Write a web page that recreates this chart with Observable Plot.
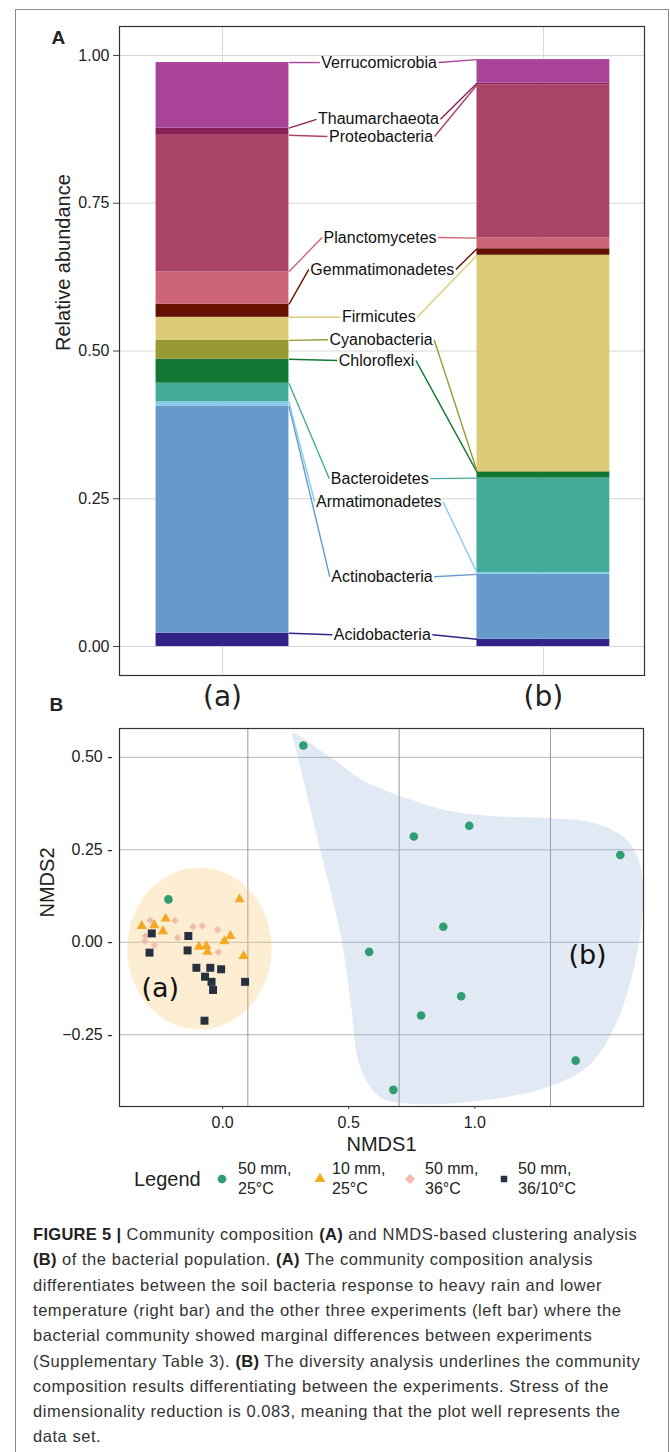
<!DOCTYPE html>
<html><head><meta charset="utf-8">
<script src="https://cdn.jsdelivr.net/npm/d3@7"></script>
<script src="https://cdn.jsdelivr.net/npm/@observablehq/plot@0.6"></script>
<style>
body{margin:0;background:#fff;}
#fig{position:relative;width:670px;height:1452px;overflow:hidden;font-family:"Liberation Sans",Arial,sans-serif;color:#222;}
#border{position:absolute;left:15px;top:9px;width:654px;height:1500px;border:1.5px solid #8a8a8a;box-sizing:border-box;}
.abs{position:absolute;}
.capline{position:absolute;left:33px;font-size:16.5px;letter-spacing:0.55px;line-height:20px;color:#333;white-space:nowrap;}
.capline b{color:#222;letter-spacing:0.3px;}
</style></head><body><div id="fig"><div id="border"></div></div>
<script>
// ---------- Panel A data ----------
const categoriesA = ["(a)", "(b)"];
const phyla = ["Acidobacteria","Actinobacteria","Armatimonadetes","Bacteroidetes","Chloroflexi","Cyanobacteria","Firmicutes","Gemmatimonadetes","Planctomycetes","Proteobacteria","Thaumarchaeota","Verrucomicrobia"];
const valuesA = [0.0225, 0.3845, 0.007, 0.0315, 0.0405, 0.032, 0.039, 0.022, 0.055, 0.231, 0.012, 0.111];
const valuesB = [0.0124, 0.1096, 0.003, 0.160, 0.010, 0.002, 0.365, 0.011, 0.018, 0.259, 0.003, 0.040];
const phylumColors = ["#332288","#6699CC","#88CCEE","#44AA99","#117733","#999933","#DDCC77","#661100","#CC6677","#AA4466","#882255","#AA4499"];
const labelY = [0.020, 0.118, 0.245, 0.284, 0.484, 0.519, 0.557, 0.638, 0.692, 0.863, 0.892, 0.988];
const labelX = [1.498, 1.497, 1.487, 1.490, 1.480, 1.494, 1.487, 1.498, 1.491, 1.494, 1.486, 1.488];
const yTicksA = [0, 0.25, 0.5, 0.75, 1];

// ---------- Panel B data ----------
const groups = ["50 mm, 25°C", "10 mm, 25°C", "50 mm, 36°C", "50 mm, 36/10°C"];
const groupColors = ["#2E9E72", "#F7A823", "#F2BCAD", "#27303F"];
const g1x = [0.320, 0.758, 0.978, 1.577, 0.875, 0.581, 0.946, 0.787, 1.400, 0.677, -0.215];
const g1y = [0.532, 0.286, 0.315, 0.236, 0.042, -0.026, -0.146, -0.198, -0.320, -0.399, 0.116];
const g2x = [0.067, -0.321, -0.271, -0.226, -0.237, -0.094, -0.065, -0.060, 0.007, 0.031, 0.083];
const g2y = [0.116, 0.044, 0.046, 0.064, 0.030, -0.012, -0.010, -0.026, 0.003, 0.017, -0.037];
const g3x = [-0.287, -0.189, -0.306, -0.308, -0.271, -0.179, -0.117, -0.081, -0.020, -0.017];
const g3y = [0.059, 0.059, 0.017, 0.003, -0.008, 0.012, 0.042, 0.044, 0.034, -0.026];
const g4x = [-0.281, -0.290, -0.136, -0.139, -0.104, -0.049, -0.006, -0.070, -0.044, -0.038, 0.089, -0.072];
const g4y = [0.024, -0.028, 0.017, -0.022, -0.069, -0.069, -0.073, -0.093, -0.107, -0.129, -0.107, -0.212];
const hullX = [0.275, 0.427, 0.560, 0.758, 0.890, 1.089, 1.287, 1.486, 1.605, 1.658, 1.664, 1.631, 1.565, 1.459, 1.287, 1.023, 0.758, 0.626, 0.546, 0.507, 0.467, 0.388, 0.308, 0.282];
const hullY = [0.566, 0.500, 0.437, 0.383, 0.356, 0.340, 0.336, 0.320, 0.275, 0.203, 0.068, -0.068, -0.212, -0.329, -0.392, -0.428, -0.437, -0.419, -0.338, -0.158, 0.023, 0.248, 0.473, 0.545];
const ellipseA = {cx: -0.092, cy: -0.017, rx: 0.286, ry: 0.219};
const clusterLabels = ["(a)", "(b)"];
const clusterLabelX = [-0.247, 1.447];
const clusterLabelY = [-0.125, -0.036];
const yTicksB = [-0.25, 0, 0.25, 0.5];
const xTicksB = [0, 0.5, 1];
const gridXB = [0.1, 0.7, 1.3];

// ---------- Caption ----------
const captionLines = [
  "<b>FIGURE 5 |</b> Community composition <b>(A)</b> and NMDS-based clustering analysis",
  "<b>(B)</b> of the bacterial population. <b>(A)</b> The community composition analysis",
  "differentiates between the soil bacteria response to heavy rain and lower",
  "temperature (right bar) and the other three experiments (left bar) where the",
  "bacterial community showed marginal differences between experiments",
  "(Supplementary Table 3). <b>(B)</b> The diversity analysis underlines the community",
  "composition results differentiating between the experiments. Stress of the",
  "dimensionality reduction is 0.083, meaning that the plot well represents the",
  "data set."
];

const fig = document.getElementById("fig");
const FONT = "'Liberation Sans', Arial, sans-serif";

// ---------- Panel A ----------
const barHalf = 0.207;
const xDomainA = [0.679, 2.315];
const rows = [];
const tops = [[], []];
[valuesA, valuesB].forEach((vals, i) => {
  let c = 0;
  vals.forEach((v, j) => {
    rows.push({cat: i + 1, y1: c, y2: c + v, color: phylumColors[j]});
    c += v; tops[i].push(c);
  });
});
const xA = Plot.scale({x: {domain: xDomainA, range: [119, 644]}});
const ctx = document.createElement("canvas").getContext("2d");
ctx.font = "16px 'Liberation Sans'";
const labels = phyla.map((p, j) => {
  const w = ctx.measureText(p).width;
  const cx = xA.apply(labelX[j]);
  return {name: p, x: labelX[j], y: labelY[j], left: xA.invert(cx - w / 2 - 1.5), right: xA.invert(cx + w / 2 + 1.5), color: phylumColors[j]};
});
const leaders = [];
labels.forEach((l, j) => {
  leaders.push({x1: 1 + barHalf, y1: tops[0][j], x2: l.left, y2: l.y, color: l.color});
  leaders.push({x1: l.right, y1: l.y, x2: 2 - barHalf, y2: tops[1][j], color: l.color});
});

const plotA = Plot.plot({
  width: 670, height: 720,
  marginLeft: 119, marginRight: 26, marginTop: 26, marginBottom: 45,
  style: {fontFamily: FONT, background: "transparent", color: "#222"},
  x: {domain: xDomainA, axis: null},
  y: {domain: [-0.049, 1.049], axis: null},
  color: {type: "identity"},
  marks: [
    Plot.gridY(yTicksA, {stroke: "#d6d6d6", strokeOpacity: 1}),
    Plot.gridX([1, 2], {stroke: "#d6d6d6", strokeOpacity: 1}),
    Plot.rect(rows, {x1: d => d.cat - barHalf, x2: d => d.cat + barHalf, y1: "y1", y2: "y2", fill: "color"}),
    Plot.link(leaders, {x1: "x1", y1: "y1", x2: "x2", y2: "y2", stroke: "color", strokeWidth: 1.4}),
    Plot.text(labels, {x: "x", y: "y", text: "name", fontSize: 16, fill: "#111"}),
    Plot.frame({stroke: "#333", strokeWidth: 1.2}),
    Plot.axisY(yTicksA, {tickSize: 6, tickPadding: 4, tickFormat: d3.format(".2f"), fontSize: 16, label: null, stroke: "#444"}),
    Plot.axisX([1, 2], {tickSize: 0, tickPadding: 11, tickFormat: i => categoriesA[i - 1], fontSize: 28, fontFamily: "DejaVu Sans", label: null}),
    Plot.text(["A"], {frameAnchor: "top-left", text: d => d, dx: -68, dy: 17, lineAnchor: "bottom", textAnchor: "start", fontWeight: "bold", fontSize: 19}),
    Plot.text(["Relative abundance"], {frameAnchor: "left", text: d => d, dx: -56, rotate: -90, lineAnchor: "middle", fontSize: 20})
  ]
});
plotA.style.position = "absolute"; plotA.style.left = "0px"; plotA.style.top = "0px";
fig.appendChild(plotA);

// ---------- Panel B ----------
const pts = (xs, ys) => xs.map((x, i) => ({x, y: ys[i]}));
const hull = pts(hullX, hullY);
const ell = d3.range(0, 72).map(i => {
  const t = i / 72 * 2 * Math.PI;
  return {x: ellipseA.cx + ellipseA.rx * Math.cos(t), y: ellipseA.cy + ellipseA.ry * Math.sin(t)};
});
const clab = clusterLabels.map((t, i) => ({t, x: clusterLabelX[i], y: clusterLabelY[i]}));
const fmtB = d3.format(".2f");

const plotB = Plot.plot({
  width: 670, height: 480,
  marginLeft: 119, marginRight: 27, marginTop: 48, marginBottom: 54,
  style: {fontFamily: FONT, background: "transparent", color: "#222"},
  x: {domain: [-0.409, 1.669], axis: null},
  y: {domain: [-0.444, 0.578], axis: null},
  marks: [
    Plot.gridY(yTicksB, {stroke: "#b8b8b8", strokeOpacity: 1}),
    Plot.gridX(gridXB, {stroke: "#999", strokeOpacity: 1}),
    Plot.line(ell, {x: "x", y: "y", fill: "#F9C66E", fillOpacity: 0.3, stroke: "none", curve: "linear-closed"}),
    Plot.line(hull, {x: "x", y: "y", fill: "#8FB0D8", fillOpacity: 0.28, stroke: "none", curve: "catmull-rom-closed", clip: true}),
    Plot.dot(pts(g3x, g3y), {x: "x", y: "y", symbol: "square", rotate: 45, r: 3.0, fill: groupColors[2]}),
    Plot.dot(pts(g2x, g2y), {x: "x", y: "y", symbol: "triangle", r: 3.8, fill: groupColors[1]}),
    Plot.dot(pts(g4x, g4y), {x: "x", y: "y", symbol: "square", r: 4.5, fill: groupColors[3]}),
    Plot.dot(pts(g1x, g1y), {x: "x", y: "y", symbol: "circle", r: 4.3, fill: groupColors[0]}),
    Plot.text(clab, {x: "x", y: "y", text: "t", fontSize: 27, fontFamily: "DejaVu Sans", fill: "#111"}),
    Plot.frame({stroke: "#333", strokeWidth: 1.2}),
    Plot.axisY(yTicksB, {tickSize: 0, tickPadding: 7, tickFormat: d => fmtB(d) + " -", fontSize: 16, label: null}),
    Plot.axisX(xTicksB, {tickSize: 3, tickPadding: 7, tickFormat: d3.format(".1f"), fontSize: 16, label: null, stroke: "#444"}),
    Plot.text(["NMDS1"], {frameAnchor: "bottom", text: d => d, dy: 38, lineAnchor: "middle", fontSize: 20}),
    Plot.text(["NMDS2"], {frameAnchor: "left", text: d => d, dx: -72, rotate: -90, lineAnchor: "middle", fontSize: 20}),
    Plot.text(["B"], {frameAnchor: "top-left", text: d => d, dx: -70, dy: -18, lineAnchor: "bottom", textAnchor: "start", fontWeight: "bold", fontSize: 19})
  ]
});
plotB.style.position = "absolute"; plotB.style.left = "0px"; plotB.style.top = "680px";
fig.appendChild(plotB);

// ---------- Legend ----------
const legendSymbolX = [222, 320, 410, 504];
const legendTextX = [238, 332, 425, 518];
const legY = 1179;
const lg = document.createElement("div");
lg.className = "abs"; lg.textContent = "Legend";
Object.assign(lg.style, {left: "134px", top: (legY - 13) + "px", fontSize: "20px", lineHeight: "26px"});
fig.appendChild(lg);
const symPaths = [
  d3.symbol(d3.symbolCircle, 60)(),
  d3.symbol(d3.symbolTriangle, 50)(),
  d3.symbol(d3.symbolSquare, 50)(),
  d3.symbol(d3.symbolSquare, 42)()
];
groups.forEach((g, i) => {
  const s = d3.create("svg").attr("width", 16).attr("height", 16)
    .style("position", "absolute").style("left", (legendSymbolX[i] - 8) + "px").style("top", (legY - 8) + "px");
  s.append("path").attr("d", symPaths[i]).attr("fill", groupColors[i])
    .attr("transform", "translate(8,8)" + (i === 2 ? " rotate(45)" : ""));
  fig.appendChild(s.node());
  const parts = g.split(", ");
  parts.forEach((p, k) => {
    const t = document.createElement("div");
    t.className = "abs";
    t.textContent = k === 0 ? p + "," : p;
    Object.assign(t.style, {left: legendTextX[i] + "px", top: (legY - 20 + k * 20) + "px", fontSize: "16px", lineHeight: "20px", whiteSpace: "nowrap"});
    fig.appendChild(t);
  });
});

// ---------- Caption ----------
captionLines.forEach((line, i) => {
  const d = document.createElement("div");
  d.className = "capline";
  d.innerHTML = line;
  d.style.top = (1224 + i * 25.3) + "px";
  fig.appendChild(d);
});
</script></body></html>
